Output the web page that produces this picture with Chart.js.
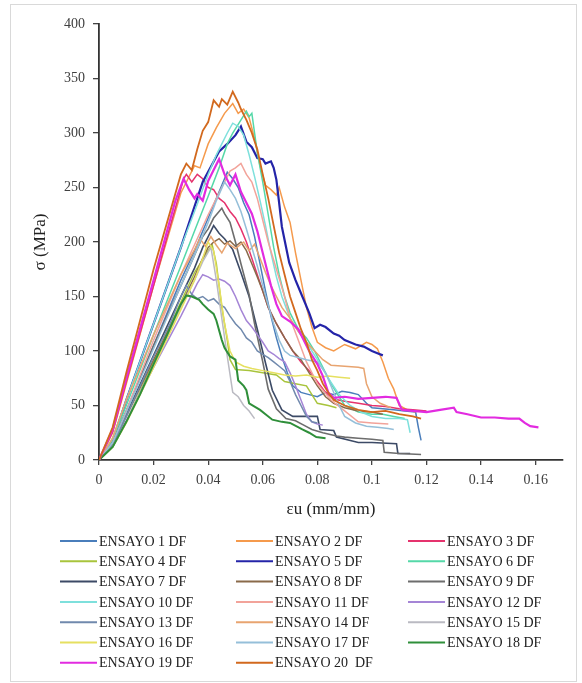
<!DOCTYPE html>
<html><head><meta charset="utf-8">
<script src="https://cdn.jsdelivr.net/npm/chart.js@4/dist/chart.umd.min.js"></script>
<style>html,body{margin:0;padding:0;background:#fff;}canvas{display:block;}</style>
</head><body>
<canvas id="c" width="582" height="683"></canvas>
<script>
const seriesLabels = ['ENSAYO 1 DF','ENSAYO 2 DF','ENSAYO 3 DF','ENSAYO 4 DF','ENSAYO 5 DF','ENSAYO 6 DF','ENSAYO 7 DF','ENSAYO 8 DF','ENSAYO 9 DF','ENSAYO 10 DF','ENSAYO 11 DF','ENSAYO 12 DF','ENSAYO 13 DF','ENSAYO 14 DF','ENSAYO 15 DF','ENSAYO 16 DF','ENSAYO 17 DF','ENSAYO 18 DF','ENSAYO 19 DF','ENSAYO 20  DF'];
const xTickValues = [0,0.02,0.04,0.06,0.08,0.1,0.12,0.14,0.16];
const yTickValues = [0,50,100,150,200,250,300,350,400];

const ensayo1 = [[0,0],[0.005,17],[0.01,45],[0.02,105],[0.03,165],[0.035,192],[0.04,222],[0.043,240],[0.045,252],[0.047,264],[0.049,258],[0.051,250],[0.053,236],[0.055,225],[0.057,205],[0.059,180],[0.061,155],[0.063,132],[0.065,112],[0.067,95],[0.069,80],[0.071,68],[0.074,62],[0.077,60],[0.08,58],[0.083,62],[0.086,60],[0.089,63],[0.092,62],[0.095,60],[0.098,52],[0.1,48],[0.104,47],[0.108,46],[0.112,45],[0.116,44],[0.117,30],[0.118,18]];
const ensayo2 = [[0,0],[0.005,25],[0.01,70],[0.02,160],[0.03,245],[0.035,270],[0.037,268],[0.04,290],[0.043,305],[0.046,318],[0.049,327],[0.051,318],[0.053,322],[0.055,314],[0.057,295],[0.059,270],[0.061,252],[0.063,248],[0.065,243],[0.066,250],[0.068,232],[0.07,218],[0.072,190],[0.074,165],[0.076,140],[0.078,122],[0.08,108],[0.083,103],[0.086,100],[0.09,106],[0.094,102],[0.098,108],[0.1,106],[0.102,102],[0.104,90],[0.106,75],[0.108,65],[0.11,50],[0.113,46],[0.116,44]];
const ensayo3 = [[0,0],[0.005,26],[0.01,72],[0.02,160],[0.025,205],[0.029,240],[0.031,258],[0.032,262],[0.034,255],[0.036,262],[0.038,258],[0.04,250],[0.042,248],[0.044,240],[0.046,236],[0.048,228],[0.05,222],[0.052,212],[0.054,200],[0.056,185],[0.058,170],[0.06,155],[0.062,140],[0.065,125],[0.068,112],[0.071,100],[0.074,90],[0.077,82],[0.08,72],[0.083,62],[0.086,56],[0.09,54],[0.095,52],[0.1,50],[0.105,49],[0.11,47],[0.115,46],[0.12,45]];
const ensayo4 = [[0,0],[0.005,12],[0.01,35],[0.02,90],[0.03,145],[0.035,172],[0.04,192],[0.0415,197],[0.043,180],[0.045,140],[0.047,110],[0.048,92],[0.05,83],[0.055,82],[0.06,80],[0.065,78],[0.068,72],[0.072,70],[0.076,68],[0.078,60],[0.08,52],[0.084,50],[0.087,48]];
const ensayo5 = [[0,0],[0.005,18],[0.01,55],[0.02,125],[0.03,195],[0.038,255],[0.044,283],[0.047,290],[0.05,298],[0.052,306],[0.054,292],[0.056,287],[0.058,277],[0.06,276],[0.061,272],[0.063,274],[0.064,268],[0.065,257],[0.066,236],[0.067,214],[0.0697,181],[0.072,165],[0.074,153],[0.077,135],[0.079,121],[0.081,124],[0.083,122],[0.086,116],[0.088,114],[0.09,110],[0.094,106],[0.097,104],[0.1,100],[0.102,98],[0.104,96]];
const ensayo6 = [[0,0],[0.005,18],[0.01,50],[0.02,115],[0.03,178],[0.035,210],[0.04,242],[0.044,268],[0.047,290],[0.049,300],[0.051,308],[0.053,316],[0.054,320],[0.055,315],[0.056,318],[0.057,300],[0.058,282],[0.06,255],[0.062,225],[0.064,195],[0.066,170],[0.068,150],[0.07,135],[0.073,120],[0.076,112],[0.079,100],[0.082,85],[0.085,70],[0.088,58],[0.09,50],[0.095,44],[0.1,42],[0.104,42],[0.108,40],[0.112,38]];
const ensayo7 = [[0,0],[0.005,15],[0.01,42],[0.02,96],[0.03,150],[0.035,176],[0.038,195],[0.04,205],[0.042,215],[0.044,208],[0.046,203],[0.049,193],[0.052,172],[0.055,150],[0.058,120],[0.061,89],[0.0635,64],[0.067,46],[0.071,40],[0.08,40],[0.081,28],[0.086,27],[0.087,21],[0.095,16],[0.1,16],[0.109,15],[0.1095,6],[0.114,6]];
const ensayo8 = [[0,0],[0.005,14],[0.01,40],[0.02,92],[0.03,142],[0.035,168],[0.038,185],[0.04,195],[0.042,200],[0.044,203],[0.046,198],[0.048,201],[0.05,196],[0.052,200],[0.054,192],[0.056,180],[0.058,168],[0.06,155],[0.062,140],[0.065,125],[0.068,112],[0.071,100],[0.074,92],[0.077,80],[0.08,68],[0.083,58],[0.086,52],[0.09,48],[0.095,45],[0.1,44],[0.104,42]];
const ensayo9 = [[0,0],[0.005,16],[0.01,45],[0.02,105],[0.03,160],[0.035,188],[0.038,205],[0.04,212],[0.042,222],[0.044,228],[0.045,231],[0.046,226],[0.048,218],[0.05,200],[0.052,180],[0.055,152],[0.057,125],[0.06,90],[0.062,65],[0.065,47],[0.0685,38],[0.072,36],[0.075,32],[0.078,28],[0.082,25],[0.087,22],[0.09,21],[0.095,20],[0.1,19],[0.104,18],[0.1045,7],[0.11,6],[0.118,5]];
const ensayo10 = [[0,0],[0.005,20],[0.01,55],[0.02,125],[0.03,195],[0.035,228],[0.04,262],[0.043,280],[0.045,290],[0.047,300],[0.049,309],[0.051,306],[0.053,298],[0.055,280],[0.057,260],[0.059,238],[0.061,215],[0.063,190],[0.065,168],[0.067,150],[0.07,130],[0.073,118],[0.076,108],[0.08,92],[0.084,75],[0.088,60],[0.092,50],[0.096,44],[0.1,40],[0.105,38],[0.11,38],[0.113,37],[0.114,25]];
const ensayo11 = [[0,0],[0.005,15],[0.01,45],[0.02,110],[0.03,170],[0.04,225],[0.045,250],[0.048,265],[0.05,268],[0.052,272],[0.054,262],[0.056,255],[0.058,240],[0.06,220],[0.062,200],[0.065,175],[0.068,150],[0.07,130],[0.073,110],[0.076,90],[0.08,70],[0.085,55],[0.09,45],[0.095,35],[0.1,34],[0.106,33]];
const ensayo12 = [[0,0],[0.005,13],[0.01,36],[0.02,85],[0.03,132],[0.034,152],[0.036,162],[0.038,170],[0.04,168],[0.042,165],[0.044,166],[0.046,164],[0.048,160],[0.05,150],[0.052,138],[0.054,128],[0.056,122],[0.058,115],[0.06,108],[0.062,100],[0.064,97],[0.066,93],[0.068,90],[0.07,80],[0.072,68],[0.074,55],[0.076,42],[0.078,35],[0.08,33],[0.082,32]];
const ensayo13 = [[0,0],[0.005,14],[0.01,40],[0.02,95],[0.026,125],[0.03,150],[0.032,160],[0.034,152],[0.036,148],[0.038,150],[0.04,146],[0.042,148],[0.044,143],[0.046,140],[0.048,132],[0.05,125],[0.052,120],[0.054,112],[0.056,108],[0.058,100],[0.06,97],[0.062,94],[0.064,90],[0.066,86],[0.068,82],[0.07,72],[0.072,60],[0.074,50],[0.076,40],[0.078,35],[0.08,34]];
const ensayo14 = [[0,0],[0.005,20],[0.01,55],[0.02,115],[0.03,170],[0.035,193],[0.037,203],[0.039,196],[0.041,205],[0.043,197],[0.045,190],[0.047,199],[0.05,194],[0.053,200],[0.055,192],[0.057,198],[0.059,185],[0.061,172],[0.063,160],[0.065,150],[0.067,140],[0.07,130],[0.073,118],[0.076,108],[0.079,100],[0.082,92],[0.085,87],[0.09,86],[0.095,85],[0.097,84],[0.098,70],[0.1,58],[0.103,52],[0.107,48]];
const ensayo15 = [[0,0],[0.005,12],[0.01,35],[0.02,88],[0.03,140],[0.035,165],[0.038,182],[0.041,195],[0.043,165],[0.045,130],[0.047,95],[0.049,62],[0.051,58],[0.053,50],[0.055,45],[0.057,38]];
const ensayo16 = [[0,0],[0.005,12],[0.01,34],[0.02,85],[0.03,138],[0.035,165],[0.038,185],[0.04,200],[0.042,192],[0.044,160],[0.046,125],[0.048,100],[0.05,90],[0.053,86],[0.056,84],[0.06,82],[0.064,80],[0.068,78],[0.072,77],[0.076,78],[0.08,76],[0.084,77],[0.088,76],[0.092,75]];
const ensayo17 = [[0,0],[0.005,16],[0.01,44],[0.02,102],[0.03,160],[0.035,188],[0.04,218],[0.043,238],[0.046,255],[0.048,248],[0.05,240],[0.052,228],[0.054,212],[0.056,195],[0.058,178],[0.06,160],[0.062,142],[0.064,125],[0.066,110],[0.068,100],[0.07,96],[0.073,94],[0.076,92],[0.08,90],[0.083,80],[0.086,62],[0.088,50],[0.09,40],[0.094,34],[0.098,31],[0.102,30],[0.106,29],[0.108,28]];
const ensayo18 = [[0,0],[0.005,12],[0.01,35],[0.015,60],[0.02,88],[0.025,115],[0.028,132],[0.03,143],[0.032,151],[0.034,150],[0.0367,147],[0.038,143],[0.04,138],[0.042,134],[0.043,128],[0.045,110],[0.046,103],[0.048,95],[0.05,92],[0.051,73],[0.053,68],[0.054,64],[0.055,52],[0.057,49],[0.059,46],[0.061,42],[0.0635,37],[0.067,35],[0.07,34],[0.0745,28],[0.077,25],[0.0796,21],[0.083,20]];
const ensayo19 = [[0,0],[0.005,28],[0.01,75],[0.02,165],[0.028,238],[0.031,258],[0.033,248],[0.035,240],[0.036,244],[0.038,238],[0.04,256],[0.042,266],[0.044,276],[0.046,262],[0.048,252],[0.05,262],[0.052,246],[0.054,236],[0.056,226],[0.058,210],[0.06,190],[0.062,170],[0.063,160],[0.065,143],[0.067,132],[0.07,127],[0.073,120],[0.075,110],[0.077,100],[0.08,88],[0.082,77],[0.084,62],[0.086,57],[0.09,58],[0.095,56],[0.1,57],[0.105,58],[0.109,57],[0.111,46],[0.115,45],[0.12,44],[0.125,46],[0.13,48],[0.131,44],[0.135,42],[0.14,39],[0.145,39],[0.15,38],[0.154,38],[0.156,34],[0.158,31],[0.161,30]];
const ensayo20 = [[0,0],[0.005,30],[0.01,80],[0.02,175],[0.03,262],[0.032,272],[0.034,266],[0.036,285],[0.038,302],[0.04,310],[0.042,330],[0.044,324],[0.045,331],[0.047,326],[0.049,338],[0.051,328],[0.052,322],[0.054,312],[0.056,300],[0.058,285],[0.06,262],[0.062,240],[0.064,215],[0.066,190],[0.068,170],[0.07,150],[0.072,135],[0.074,120],[0.076,108],[0.078,92],[0.08,82],[0.082,70],[0.084,62],[0.086,55],[0.09,50],[0.095,46],[0.1,44],[0.105,45],[0.11,42],[0.115,40],[0.118,38]];

const allSeries = [ensayo1,ensayo2,ensayo3,ensayo4,ensayo5,ensayo6,ensayo7,ensayo8,ensayo9,ensayo10,ensayo11,ensayo12,ensayo13,ensayo14,ensayo15,ensayo16,ensayo17,ensayo18,ensayo19,ensayo20];
const colors = ['#4A7EBB','#F59A4C','#E5336D','#A8C43C','#2424A8','#55D8A8','#3C4A66','#8A6A4A','#6D6D6D','#7EE0DC','#F2A39A','#A585D6','#7089AD','#E8A470','#BABAC2','#E6E060','#95BFD9','#2F8F3A','#E22BE0','#D2691E'];
const widths = [1.5,1.5,1.5,1.5,2.2,1.5,1.6,1.5,1.6,1.5,1.5,1.5,1.5,1.5,1.5,1.5,1.5,2,2.2,1.8];

const datasets = allSeries.map((s,i)=>({
  label: seriesLabels[i],
  data: s.map(p=>({x:p[0],y:p[1]})),
  borderColor: colors[i], backgroundColor: colors[i],
  borderWidth: widths[i], showLine: true, pointRadius: 0, tension: 0, fill: false,
  order: allSeries.length - i
}));

const frame = {id:'frame', beforeDraw(c){const x=c.ctx;x.save();x.fillStyle='#fff';x.fillRect(0,0,c.width,c.height);x.strokeStyle='#d9d9d9';x.lineWidth=1;x.strokeRect(10.5,4.5,566,677);x.restore();}};
const legendGrid = {id:'legendGrid', afterDraw(c){
  const x=c.ctx; x.save(); x.font='14px "Liberation Serif"'; x.textBaseline='middle';
  c.data.datasets.forEach((ds,i)=>{
    const col=i%3,row=Math.floor(i/3); const x0=[60,236,408][col]; const y=541+row*20.3;
    x.strokeStyle=ds.borderColor; x.lineWidth=2; x.beginPath(); x.moveTo(x0,y); x.lineTo(x0+37,y); x.stroke();
    x.fillStyle='#222'; x.fillText(ds.label,x0+39,y+1);
  }); x.restore();
}};

const tickFont = {family:'Liberation Serif', size:14};
new Chart(document.getElementById('c'), {
  type:'scatter',
  data:{datasets},
  options:{
    responsive:false, animation:false, devicePixelRatio:1,
    layout:{padding:{left:0,right:19,top:24,bottom:153}},
    plugins:{legend:{display:false},tooltip:{enabled:false}},
    scales:{
      x:{type:'linear',min:0,max:0.17,
        afterBuildTicks:s=>{s.ticks=xTickValues.map(v=>({value:v}));},
        afterFit:s=>{s.height=70;},
        ticks:{font:tickFont,color:'#404040',padding:7,maxRotation:0,autoSkip:false,callback:v=>String(+Number(v).toFixed(2))},
        grid:{drawOnChartArea:false,drawTicks:true,tickLength:5,color:'#444',lineWidth:1.3},
        border:{display:true,color:'#333',width:1.8},
        title:{display:true,text:'εu (mm/mm)',font:{family:'Liberation Serif',size:17},color:'#222',padding:{top:0,bottom:10}}
      },
      y:{type:'linear',min:0,max:400,
        afterBuildTicks:s=>{s.ticks=yTickValues.map(v=>({value:v}));},
        afterFit:s=>{s.width=99;},
        ticks:{font:tickFont,color:'#404040',padding:8,autoSkip:false},
        grid:{drawOnChartArea:false,drawTicks:true,tickLength:6,color:'#444',lineWidth:1.3},
        border:{display:true,color:'#333',width:1.8},
        title:{display:true,text:'σ (MPa)',font:{family:'Liberation Serif',size:17},color:'#222',padding:{top:30,bottom:0}}
      }
    }
  },
  plugins:[frame,legendGrid]
});
</script>
</body></html>
